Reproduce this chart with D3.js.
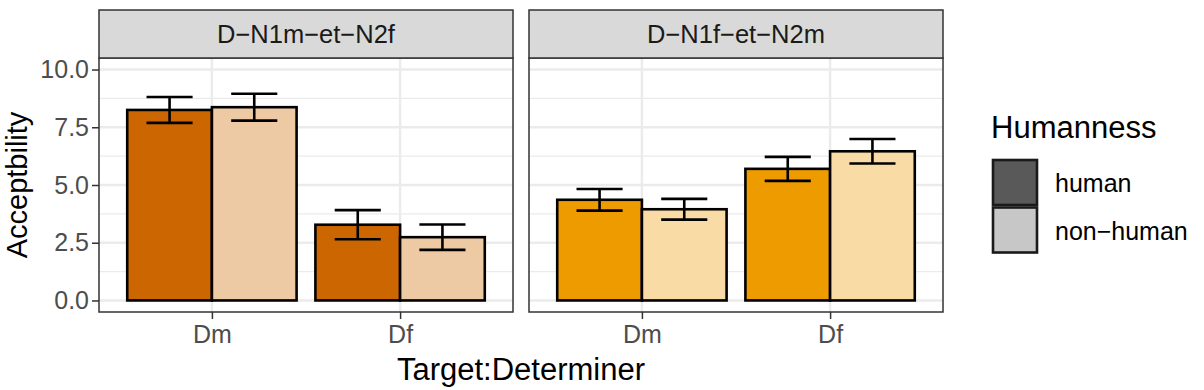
<!DOCTYPE html>
<html>
<head>
<meta charset="utf-8">
<script src="https://cdn.jsdelivr.net/npm/d3@7"></script>
<style>
  body { margin: 0; background: #fff; }
  svg { font-family: "Liberation Sans", Arial, sans-serif; }
</style>
</head>
<body>
<svg id="svg" width="1204" height="390"></svg>
<script>
(function() {

    const svg = d3.select('#svg')

    // data
    const panels = ['D\u2212N1m\u2212et\u2212N2f', 'D\u2212N1f\u2212et\u2212N2m']
    const determiners = ['Dm', 'Df']
    const groups = ['human', 'non-human']
    // [panel][determiner]
    const meanHuman = [[8.25, 3.28], [4.36, 5.70]]
    const meanNonHuman = [[8.37, 2.74], [3.95, 6.46]]
    const errHuman = [[0.56, 0.63], [0.47, 0.52]]
    const errNonHuman = [[0.58, 0.55], [0.45, 0.53]]
    const yTicks = [0, 2.5, 5, 7.5, 10]
    const yMinor = [1.25, 3.75, 6.25, 8.75]

    const panelColors = [
        { 'human': '#cc6600', 'non-human': '#edcaa3' },
        { 'human': '#ee9b00', 'non-human': '#f9dba6' }
    ]
    const legendColors = { 'human': '#595959', 'non-human': '#c7c7c7' }

    const panelLeft = [99, 529], panelWidth = 414
    const panelTop = 58, panelBottom = 312, stripTop = 10

    const y = d3.scaleLinear().domain([-0.5, 10.5]).range([panelBottom, panelTop])

    panels.forEach((name, p) => {
        const x0 = panelLeft[p]
        const x = d3.scalePoint().domain(determiners)
            .range([x0, x0 + panelWidth]).padding(0.6)
        const step = x.step()
        const sub = d3.scaleBand().domain(groups).range([-0.45 * step, 0.45 * step])

        const g = svg.append('g')

        // grid
        g.selectAll('.minor')
            .data(yMinor)
            .enter()
            .append('line')
                .attr('x1', x0).attr('x2', x0 + panelWidth)
                .attr('y1', d => y(d)).attr('y2', d => y(d))
                .style('stroke', '#ebebeb').style('stroke-width', 1.2)
        g.selectAll('.major')
            .data(yTicks)
            .enter()
            .append('line')
                .attr('x1', x0).attr('x2', x0 + panelWidth)
                .attr('y1', d => y(d)).attr('y2', d => y(d))
                .style('stroke', '#ebebeb').style('stroke-width', 2.4)
        g.selectAll('.vmajor')
            .data(determiners)
            .enter()
            .append('line')
                .attr('x1', d => x(d)).attr('x2', d => x(d))
                .attr('y1', panelTop).attr('y2', panelBottom)
                .style('stroke', '#ebebeb').style('stroke-width', 2.4)

        // bars
        const rows = []
        determiners.forEach((d, i) => {
            rows.push({ det: d, grp: 'human', mean: meanHuman[p][i], err: errHuman[p][i] })
            rows.push({ det: d, grp: 'non-human', mean: meanNonHuman[p][i], err: errNonHuman[p][i] })
        })

        g.selectAll('.bar')
            .data(rows)
            .enter()
            .append('rect')
                .attr('x', d => x(d.det) + sub(d.grp))
                .attr('width', sub.bandwidth())
                .attr('y', d => y(d.mean))
                .attr('height', d => y(0) - y(d.mean))
                .attr('fill', d => panelColors[p][d.grp])
                .style('stroke', '#000').style('stroke-width', 2.6)

        // error bars
        const ew = 0.245 * step
        rows.forEach(d => {
            const cx = x(d.det) + sub(d.grp) + sub.bandwidth() / 2
            const eg = g.append('g').style('stroke', '#000').style('stroke-width', 2.6)
            eg.append('line').attr('x1', cx).attr('x2', cx)
                .attr('y1', y(d.mean + d.err)).attr('y2', y(d.mean - d.err))
            eg.append('line').attr('x1', cx - ew / 2).attr('x2', cx + ew / 2)
                .attr('y1', y(d.mean + d.err)).attr('y2', y(d.mean + d.err))
            eg.append('line').attr('x1', cx - ew / 2).attr('x2', cx + ew / 2)
                .attr('y1', y(d.mean - d.err)).attr('y2', y(d.mean - d.err))
        })

        // panel border
        g.append('rect')
            .attr('x', x0).attr('y', panelTop)
            .attr('width', panelWidth).attr('height', panelBottom - panelTop)
            .attr('fill', 'none').style('stroke', '#333').style('stroke-width', 1.5)

        // strip
        g.append('rect')
            .attr('x', x0).attr('y', stripTop)
            .attr('width', panelWidth).attr('height', panelTop - stripTop)
            .attr('fill', '#d9d9d9').style('stroke', '#333').style('stroke-width', 1.5)
        g.append('text')
            .attr('x', x0 + panelWidth / 2).attr('y', (stripTop + panelTop) / 2 + 9)
            .attr('text-anchor', 'middle')
            .style('font-size', '25.5px').style('fill', '#1a1a1a')
            .text(name)

        // x axis
        const xAxis = svg.append('g')
            .attr('transform', 'translate(0,' + panelBottom + ')')
            .call(d3.axisBottom(x).tickSize(7).tickPadding(6))
        xAxis.select('.domain').remove()
        xAxis.selectAll('line').style('stroke', '#333').style('stroke-width', 1.5)
        xAxis.selectAll('text').style('font-size', '25px').style('fill', '#4d4d4d')
            .style('font-family', '"Liberation Sans", Arial, sans-serif')
    })

    // y axis
    const yAxis = svg.append('g')
        .attr('transform', 'translate(' + panelLeft[0] + ',0)')
        .call(d3.axisLeft(y).tickValues(yTicks).tickFormat(d3.format('.1f')).tickSize(7).tickPadding(3))
    yAxis.select('.domain').remove()
    yAxis.selectAll('line').style('stroke', '#333').style('stroke-width', 1.5)
    yAxis.selectAll('text').style('font-size', '25px').style('fill', '#4d4d4d')
        .style('font-family', '"Liberation Sans", Arial, sans-serif')

    // axis titles
    svg.append('text')
        .attr('x', (panelLeft[0] + panelLeft[1] + panelWidth) / 2).attr('y', 380)
        .attr('text-anchor', 'middle')
        .style('font-size', '31px').style('fill', '#000')
        .text('Target:Determiner')

    svg.append('text')
        .attr('transform', 'translate(27,' + ((panelTop + panelBottom) / 2) + ') rotate(-90)')
        .attr('text-anchor', 'middle')
        .style('font-size', '29px').style('fill', '#000')
        .text('Acceptbility')

    // legend
    svg.append('text')
        .attr('x', 991).attr('y', 138)
        .style('font-size', '31px').style('fill', '#000')
        .text('Humanness')

    groups.forEach((grp, i) => {
        svg.append('rect')
            .attr('x', 993).attr('y', 160 + i * 47.5)
            .attr('width', 44).attr('height', 45)
            .attr('fill', legendColors[grp])
            .style('stroke', '#1a1a1a').style('stroke-width', 2.6)
        svg.append('text')
            .attr('x', 1055).attr('y', 192 + i * 47.5)
            .style('font-size', '25px').style('fill', '#000')
            .text(grp.replace('-', '\u2212'))
    })

})();
</script>
</body>
</html>
